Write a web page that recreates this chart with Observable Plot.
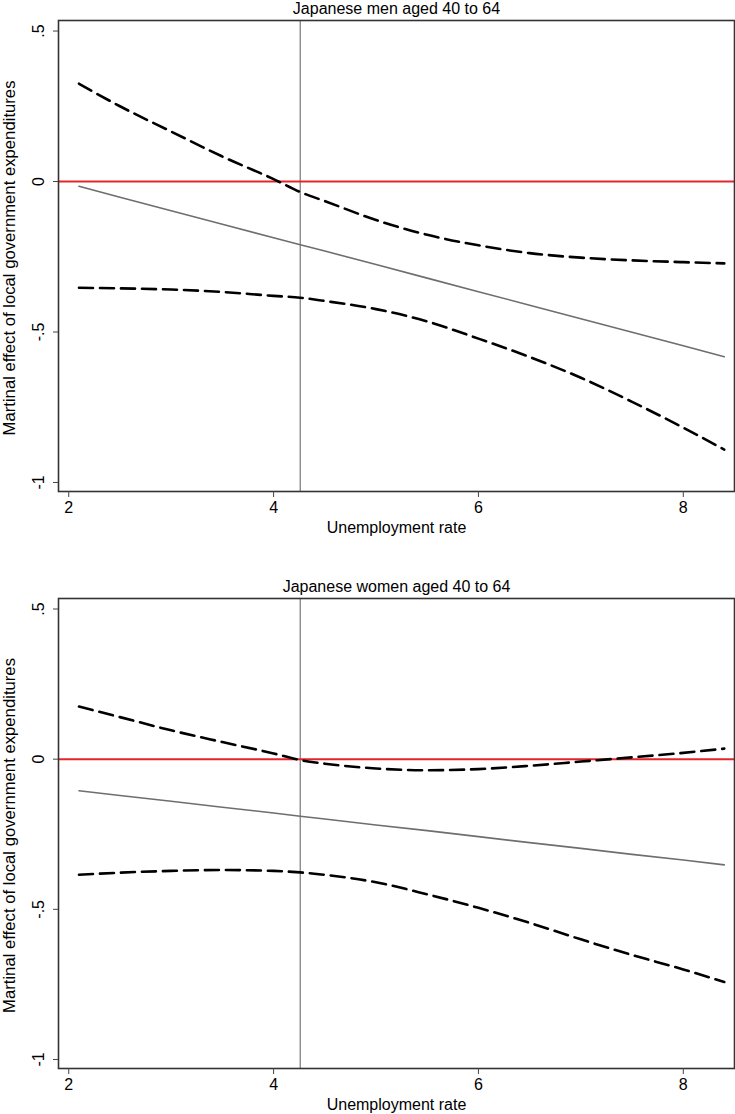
<!DOCTYPE html>
<html>
<head>
<meta charset="utf-8">
<script src="https://cdn.jsdelivr.net/npm/d3@7"></script>
<script src="https://cdn.jsdelivr.net/npm/@observablehq/plot@0.6"></script>
<style>
  html, body { margin: 0; padding: 0; background: #fff; }
  #chart { width: 735px; }
  #chart svg { display: block; }
</style>
</head>
<body>
<div id="chart"></div>
<script>
// Unemployment rate grid (x)
const unemp = [2.1, 2.5, 3, 3.5, 4, 4.26, 4.5, 5, 5.5, 6, 6.5, 7, 7.5, 8, 8.4];

// Japanese men aged 40 to 64
const menEst = [-0.016, -0.052, -0.097, -0.142, -0.187, -0.21, -0.231, -0.276, -0.321, -0.366, -0.411, -0.456, -0.501, -0.546, -0.582];
const menLo  = [-0.353, -0.355, -0.359, -0.367, -0.38, -0.386, -0.397, -0.424, -0.465, -0.522, -0.583, -0.652, -0.732, -0.818, -0.891];
const menHi  = [0.325, 0.25, 0.166, 0.083, 0.008, -0.035, -0.065, -0.128, -0.177, -0.212, -0.238, -0.253, -0.262, -0.268, -0.272];

// Japanese women aged 40 to 64
const womenEst = [-0.105, -0.121, -0.140, -0.160, -0.179, -0.190, -0.199, -0.219, -0.238, -0.258, -0.278, -0.297, -0.317, -0.336, -0.352];
const womenLo  = [-0.385, -0.378, -0.372, -0.369, -0.372, -0.377, -0.385, -0.41, -0.45, -0.495, -0.545, -0.60, -0.652, -0.70, -0.742];
const womenHi  = [0.175, 0.14, 0.096, 0.057, 0.019, -0.003, -0.015, -0.031, -0.037, -0.033, -0.022, -0.008, 0.006, 0.021, 0.035];

const titles = ["Japanese men aged 40 to 64", "Japanese women aged 40 to 64"];
const xTicks = [2, 4, 6, 8];
const yTicks = [-1, -0.5, 0, 0.5];
const refX = [4.26];
const refY = [0];
const xLabel = "Unemployment rate";
const yLabel = "Martinal effect of local government expenditures";

const fmtY = d => d === 0 ? "0" : String(d).replace("0.", ".");
const font = "'Liberation Sans', Arial, Helvetica, sans-serif";

function panel(title, est, lo, hi, marginTop, marginBottom) {
  const rows = unemp.map((x, i) => ({x, est: est[i], lo: lo[i], hi: hi[i]}));
  return Plot.plot({
    width: 735,
    height: 557,
    marginLeft: 58,
    marginRight: 1,
    marginTop,
    marginBottom,
    style: {fontFamily: font, fontSize: "16px", color: "#000", background: "#fff"},
    x: {domain: [1.9, 8.5]},
    y: {domain: [-1.03, 0.535]},
    marks: [
      Plot.ruleX(refX, {stroke: "#777", strokeWidth: 1.2}),
      Plot.ruleY(refY, {stroke: "#e3262b", strokeWidth: 2}),
      Plot.line(rows, {x: "x", y: "est", stroke: "#6e6e6e", strokeWidth: 1.6}),
      Plot.line(rows, {x: "x", y: "lo", stroke: "#000", strokeWidth: 2.6, strokeDasharray: "14,7", curve: "monotone-x"}),
      Plot.line(rows, {x: "x", y: "hi", stroke: "#000", strokeWidth: 2.6, strokeDasharray: "14,7", curve: "monotone-x"}),
      Plot.frame({stroke: "#333", strokeWidth: 1.6}),
      Plot.axisX({ticks: xTicks, tickSize: 6, tickPadding: 4, tickFormat: d => String(d), stroke: "#444", label: null, fontSize: 16}),
      Plot.axisY({ticks: yTicks, tickSize: 5, tickFormat: () => "", stroke: "#444", label: null}),
      Plot.text(yTicks, {y: d => d, text: fmtY, frameAnchor: "left", dx: -20, rotate: -90, textAnchor: "middle", lineAnchor: "middle", fontSize: 16}),
      Plot.text([xLabel], {frameAnchor: "bottom", dy: 36, lineAnchor: "middle", fontSize: 16}),
      Plot.text([yLabel], {frameAnchor: "left", dx: -49, dy: 2, rotate: -90, textAnchor: "middle", lineAnchor: "middle", fontSize: 16.7}),
      Plot.text([title], {frameAnchor: "top", dy: -12, lineAnchor: "middle", fontSize: 16})
    ]
  });
}

const el = document.getElementById("chart");
el.append(panel(titles[0], menEst, menLo, menHi, 20, 66));
el.append(panel(titles[1], womenEst, womenLo, womenHi, 41, 46));
</script>
</body>
</html>
